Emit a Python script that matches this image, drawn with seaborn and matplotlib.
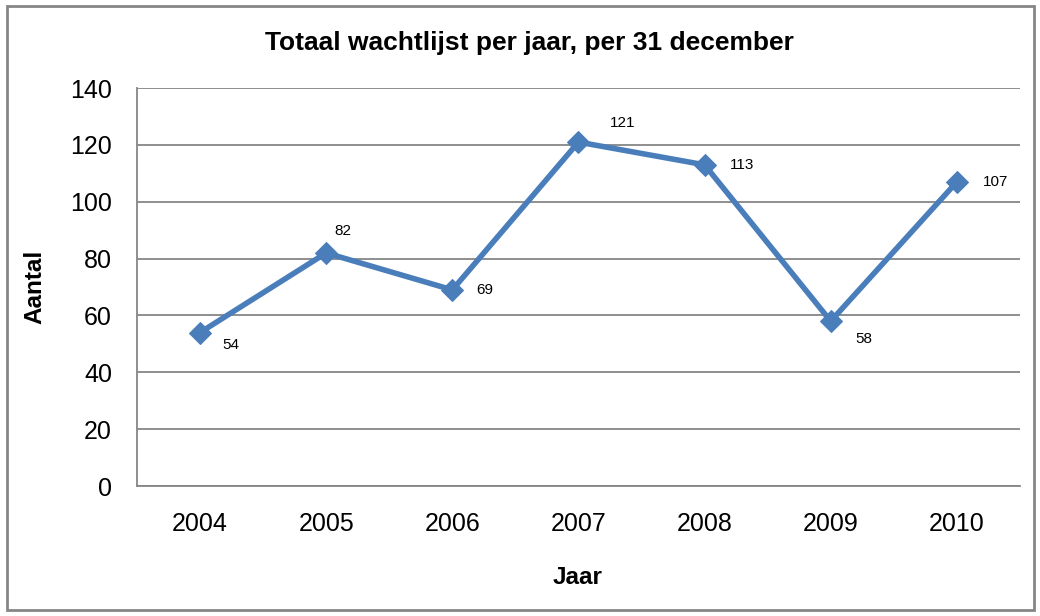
import numpy as np
import pandas as pd
import seaborn as sns
import matplotlib.pyplot as plt
from matplotlib.patches import Rectangle

years = ['2004', '2005', '2006', '2007', '2008', '2009', '2010']
aantal = [54, 82, 69, 121, 113, 58, 107]

# label offsets in points (Excel places them by hand)
label_offsets = [(22, -9), (12, 16), (23, 0), (32, 14), (27, 0), (24, -13), (28, 0)]

df = pd.DataFrame({'pos': np.arange(len(years)), 'Jaar': years, 'Aantal': aantal})

sns.set_style('white')
plt.rcParams['font.family'] = ['Liberation Sans', 'DejaVu Sans']
plt.rcParams['text.color'] = 'black'
plt.rcParams['xtick.color'] = 'black'
plt.rcParams['ytick.color'] = 'black'

fig = plt.figure(figsize=(10.4, 6.16), dpi=100)
ax = fig.add_axes([0.1317, 0.211, 0.849, 0.646])

grey = '#868686'
blue = '#4A7EBB'

sns.lineplot(data=df, x='pos', y='Aantal', ax=ax, color=blue, linewidth=4,
             marker='D', markersize=11.5, markeredgecolor=blue, zorder=3)

for i, (x, y) in enumerate(zip(df['pos'], df['Aantal'])):
    ax.annotate(str(y), (x, y), xytext=label_offsets[i], textcoords='offset points',
                ha='center', va='center', fontsize=11)

ax.set_xlim(-0.5, len(years) - 0.5)
ax.set_ylim(0, 140)
ax.set_yticks(range(0, 141, 20))
ax.yaxis.grid(True, color=grey, linewidth=1.3)
ax.set_axisbelow(True)

ax.set_xticks(df['pos'])
ax.set_xticklabels(years)
ax.set_xticks(np.arange(-0.5, len(years), 1.0), minor=True)
ax.tick_params(axis='x', which='major', length=0, labelsize=18, pad=19)
ax.tick_params(axis='x', which='minor', length=7, width=1.3, color=grey, direction='out')
ax.tick_params(axis='y', length=7, width=1.3, color=grey, labelcolor='black',
               direction='out', labelsize=18, pad=11)

for s in ['top', 'right']:
    ax.spines[s].set_visible(False)
for s in ['left', 'bottom']:
    ax.spines[s].set_color(grey)
    ax.spines[s].set_linewidth(1.3)

ax.set_xlabel('')
ax.set_ylabel('')
fig.text(0.034, 0.534, 'Aantal', rotation=90, ha='center', va='center',
         fontsize=17.5, fontweight='bold')
fig.text(0.555, 0.063, 'Jaar', ha='center', va='center', fontsize=17.5, fontweight='bold')
fig.text(0.509, 0.931, 'Totaal wachtlijst per jaar, per 31 december',
         ha='center', va='center', fontsize=19, fontweight='bold')

fig.patches.append(Rectangle((7 / 1040, 6 / 616), 1027 / 1040, 604 / 616,
                             transform=fig.transFigure, fill=False,
                             edgecolor=grey, linewidth=2))

fig.savefig('out.png', dpi=100)
